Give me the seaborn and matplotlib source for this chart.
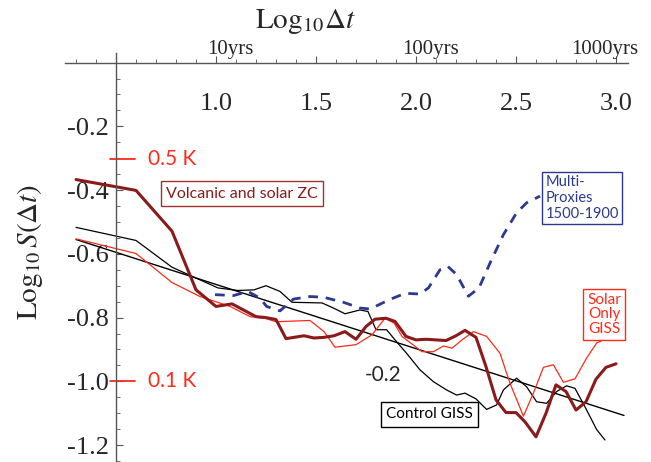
import numpy as np
import pandas as pd
import matplotlib
matplotlib.use("Agg")
import matplotlib.pyplot as plt
import seaborn as sns

# traced series (x = log10 dt, y = log10 S)
volc_x = [0.30, 0.60, 0.78, 0.90, 1.00, 1.08, 1.20, 1.25, 1.30, 1.35, 1.44, 1.49, 1.54, 1.59,
          1.645, 1.70, 1.75, 1.795, 1.85, 1.895, 1.95, 2.00, 2.05, 2.10, 2.15, 2.20, 2.245,
          2.30, 2.35, 2.40, 2.45, 2.50, 2.545, 2.60, 2.65, 2.70, 2.75, 2.80, 2.85, 2.90, 2.95, 3.00]
volc_y = [-0.367, -0.401, -0.529, -0.713, -0.765, -0.757, -0.797, -0.800, -0.806, -0.866,
          -0.857, -0.864, -0.862, -0.857, -0.844, -0.868, -0.828, -0.805, -0.802, -0.812,
          -0.859, -0.870, -0.868, -0.870, -0.872, -0.857, -0.840, -0.862, -0.954, -1.058,
          -1.098, -1.098, -1.127, -1.174, -1.100, -1.011, -1.032, -1.090, -1.064, -0.993,
          -0.956, -0.945]

solar_x = [0.30, 0.60, 0.78, 0.92, 1.07, 1.17, 1.25, 1.30, 1.47, 1.54, 1.595, 1.70, 1.78,
           1.845, 1.89, 1.93, 2.03, 2.087, 2.137, 2.18, 2.23, 2.287, 2.353, 2.42, 2.47,
           2.537, 2.587, 2.637, 2.687, 2.737, 2.795, 2.853, 2.903, 2.987]
solar_y = [-0.553, -0.599, -0.690, -0.734, -0.765, -0.797, -0.803, -0.813, -0.809, -0.844,
           -0.893, -0.885, -0.854, -0.802, -0.817, -0.859, -0.907, -0.907, -0.889, -0.896,
           -0.870, -0.844, -0.859, -0.912, -1.006, -1.109, -1.037, -0.956, -0.948, -1.003,
           -0.992, -0.927, -0.880, -0.854]

ctrl_x = [0.30, 0.60, 0.78, 1.01, 1.11, 1.19, 1.25, 1.32, 1.38, 1.53, 1.587, 1.645, 1.72,
          1.76, 1.80, 1.853, 1.895, 1.953, 2.02, 2.087, 2.153, 2.203, 2.245, 2.30, 2.353,
          2.403, 2.437, 2.503, 2.553, 2.603, 2.653, 2.703, 2.753, 2.795, 2.845, 2.903, 2.945]
ctrl_y = [-0.517, -0.558, -0.642, -0.707, -0.715, -0.713, -0.700, -0.718, -0.752, -0.754,
          -0.770, -0.788, -0.776, -0.781, -0.838, -0.838, -0.870, -0.912, -0.964, -1.001,
          -1.027, -1.043, -1.037, -1.055, -1.088, -1.074, -1.027, -0.990, -1.017, -1.064,
          -1.069, -1.032, -1.014, -1.022, -1.080, -1.151, -1.184]

proxy_x = [0.995, 1.087, 1.16, 1.22, 1.253, 1.32, 1.387, 1.47, 1.537, 1.637, 1.72, 1.77,
           1.87, 1.945, 2.02, 2.062, 2.12, 2.158, 2.203, 2.262, 2.315, 2.37, 2.437, 2.503,
           2.553, 2.62]
proxy_y = [-0.728, -0.731, -0.718, -0.739, -0.765, -0.779, -0.742, -0.734, -0.736, -0.752,
           -0.770, -0.773, -0.743, -0.724, -0.726, -0.707, -0.650, -0.639, -0.665, -0.733,
           -0.707, -0.629, -0.540, -0.471, -0.440, -0.419]

# slope -0.2 reference line
trend_x = [0.30, 3.04]
trend_y = [-0.555, -1.107]

xticks = [1.0, 1.5, 2.0, 2.5, 3.0]
xtick_labels = ["1.0", "1.5", "2.0", "2.5", "3.0"]
yticks = [-0.2, -0.4, -0.6, -0.8, -1.0, -1.2]
ytick_labels = ["-0.2", "-0.4", "-0.6", "-0.8", "-1.0", "-1.2"]
year_pos = [1.07, 2.075, 2.945]
year_labels = ["10yrs", "100yrs", "1000yrs"]

sns.set_style("white")
plt.rcParams['font.family'] = ['Liberation Serif', 'DejaVu Serif']
plt.rcParams['mathtext.fontset'] = 'stix'

fig = plt.figure(figsize=(6.51, 4.62), dpi=100)
ax = fig.add_axes([65/651, 0, 563/651, 409/462])

sns.lineplot(x=trend_x, y=trend_y, ax=ax, color="black", lw=1.0, sort=False, estimator=None)
sns.lineplot(x=ctrl_x, y=ctrl_y, ax=ax, color="black", lw=0.9, sort=False, estimator=None)
sns.lineplot(x=solar_x, y=solar_y, ax=ax, color="#ff2a1a", lw=0.9, sort=False, estimator=None)
sns.lineplot(x=volc_x, y=volc_y, ax=ax, color="#8b1a1a", lw=2.2, sort=False, estimator=None)
ax.plot(proxy_x, proxy_y, color="#2b3990", lw=2.0, ls=(0, (3.5, 2.8)))

ax.set_xlim(0.245, 3.06)
ax.set_ylim(-1.253, 0.03)

for s in ['top', 'right']:
    ax.spines[s].set_visible(False)
ax.spines['left'].set_position(('data', 0.5))
ax.spines['bottom'].set_position(('data', 0))
for s in ['left', 'bottom']:
    ax.spines[s].set_color("#555555")
    ax.spines[s].set_linewidth(1.0)

ax.set_xticks(xticks)
ax.set_xticklabels(xtick_labels)
ax.set_xticks(np.arange(0.3, 3.01, 0.1), minor=True)
ax.set_yticks(yticks)
ax.set_yticklabels(ytick_labels)
ax.set_yticks(np.arange(-1.25, 0.0, 0.05), minor=True)
ax.tick_params(axis='both', which='both', direction='in', color="#555555",
               bottom=True, left=True, labelsize=19)
ax.tick_params(axis='both', which='major', length=5, width=0.8)
ax.tick_params(axis='both', which='minor', length=3, width=0.6)
ax.tick_params(axis='x', which='major', pad=22)
ax.tick_params(axis='y', which='major', pad=5)
for lbl in ax.get_xticklabels() + ax.get_yticklabels():
    lbl.set_family("Liberation Serif")

for p, lab in zip(year_pos, year_labels):
    ax.text(p, 0.012, lab, ha='center', va='bottom', fontsize=15,
            family="Liberation Serif", clip_on=False)

fig.text(305/651, 1 - 22/462, r'$\mathrm{Log}_{10}\Delta t$', ha='center', va='center', fontsize=21)
fig.text(30/651, 1 - 252/462, r'$\mathrm{Log}_{10}\,S(\Delta t)$', ha='center', va='center',
         fontsize=21, rotation=90)

# temperature markers
red = "#ff2a1a"
for yv, lab in [(-0.301, "0.5 K"), (-1.0, "0.1 K")]:
    ax.plot([0.47, 0.595], [yv, yv], color=red, lw=1.3, clip_on=False)
    ax.text(0.66, yv, lab, color=red, fontsize=15, family="Lato", ha='left', va='center')

ax.text(1.745, -0.98, "-0.2", fontsize=15, family="Lato", ha='left', va='center')

# labels with boxes
ax.text(1.13, -0.412, "Volcanic and solar ZC", color="#8b1a1a", fontsize=11.5, family="Lato",
        ha='center', va='center',
        bbox=dict(boxstyle='square,pad=0.35', fc='white', ec="#a03030", lw=1.0))
ax.text(2.83, -0.425, "Multi-\nProxies\n1500-1900", color="#2b3990", fontsize=10.5, family="Lato",
        ha='center', va='center', multialignment='left', linespacing=1.15,
        bbox=dict(boxstyle='square,pad=0.2', fc='white', ec="#2b3990", lw=1.0))
ax.text(2.94, -0.79, "Solar\nOnly\nGISS", color=red, fontsize=11, family="Lato",
        ha='center', va='center', multialignment='center', linespacing=1.05,
        bbox=dict(boxstyle='square,pad=0.25', fc='white', ec=red, lw=1.0))
ax.text(2.068, -1.103, "Control GISS", color="black", fontsize=11, family="Lato",
        ha='center', va='center',
        bbox=dict(boxstyle='square,pad=0.35', fc='white', ec="black", lw=1.0))

fig.savefig("out.png", dpi=100)
